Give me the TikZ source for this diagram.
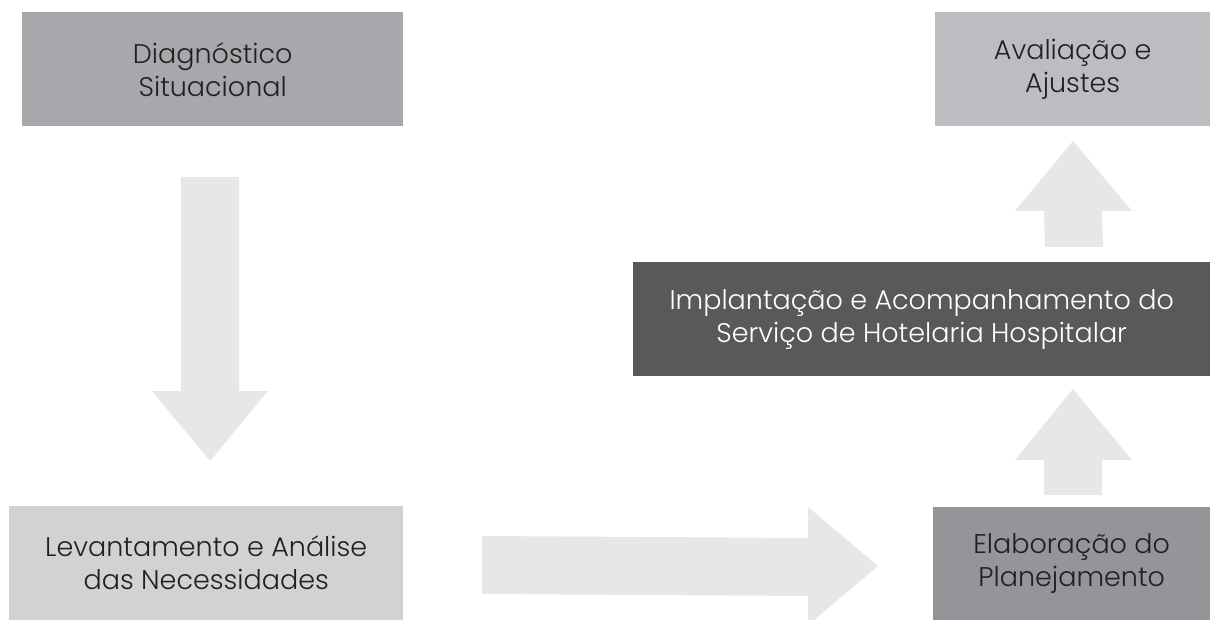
\documentclass[tikz,border=0pt]{standalone}
\usepackage{fontspec}
\setmainfont{Poppins Light}
\definecolor{cdiag}{HTML}{A7A8AB}
\definecolor{caval}{HTML}{BCBDC0}
\definecolor{cimpl}{HTML}{58595B}
\definecolor{clev}{HTML}{D1D2D4}
\definecolor{celab}{HTML}{939598}
\definecolor{carrow}{HTML}{E6E7E8}
\definecolor{ctext}{HTML}{231F20}
\begin{document}
\begin{tikzpicture}[x=1pt,y=-1pt,
  stepbox/.style={rectangle, inner sep=0pt, anchor=north west, align=center,
    text=ctext, font=\fontsize{27}{33}\selectfont},
  blockarrow/.style={fill=carrow, draw=none}]
\useasboundingbox (0,0) rectangle (1210,620);
\node[stepbox, fill=cdiag, minimum width=381pt, minimum height=114pt] (diag) at (22,12) {Diagnóstico\\Situacional};
\node[stepbox, fill=caval, minimum width=275pt, minimum height=114pt] (aval) at (935,12) {Avaliação e\\Ajustes};
\node[stepbox, fill=cimpl, text=white, minimum width=577pt, minimum height=114pt] (impl) at (633,262) {Implantação e Acompanhamento do\\Serviço de Hotelaria Hospitalar};
\node[stepbox, fill=clev, minimum width=394pt, minimum height=114pt] (lev) at (9,506) {Levantamento e Análise\\das Necessidades};
\node[stepbox, fill=celab, minimum width=277pt, minimum height=113pt] (elab) at (933,507) {Elaboração do\\Planejamento};
% arrow 1: diag -> lev (down)
\coordinate (a1s) at (210,177);
\coordinate (a1e) at (210,461);
\fill[blockarrow] ([xshift=-29pt]a1s) -- ([xshift=29pt]a1s) -- ([xshift=29pt,yshift=70pt]a1e) -- ([xshift=58pt,yshift=70pt]a1e) -- (a1e) -- ([xshift=-58pt,yshift=70pt]a1e) -- ([xshift=-29pt,yshift=70pt]a1e) -- cycle;
% arrow 2: lev -> elab (right)
\coordinate (a2s) at (482,565);
\coordinate (a2e) at (878,566);
\fill[blockarrow] ([yshift=29pt]a2s) -- ([yshift=-29pt]a2s) -- ([xshift=-70pt,yshift=-30pt]a2e) -- ([xshift=-70pt,yshift=-59pt]a2e) -- (a2e) -- ([xshift=-70pt,yshift=59pt]a2e) -- ([xshift=-70pt,yshift=28pt]a2e) -- cycle;
% arrow 3: elab -> impl (up)
\coordinate (a3s) at (1073,495);
\coordinate (a3e) at (1073,389);
\fill[blockarrow] ([xshift=-29pt]a3s) -- ([xshift=29pt]a3s) -- ([xshift=29pt,yshift=-71pt]a3e) -- ([xshift=59pt,yshift=-71pt]a3e) -- (a3e) -- ([xshift=-58pt,yshift=-71pt]a3e) -- ([xshift=-29pt,yshift=-71pt]a3e) -- cycle;
% arrow 4: impl -> aval (up)
\coordinate (a4s) at (1074,247);
\coordinate (a4e) at (1073,141);
\fill[blockarrow] ([xshift=-29pt]a4s) -- ([xshift=29pt]a4s) -- ([xshift=29pt,yshift=-70pt]a4e) -- ([xshift=59pt,yshift=-70pt]a4e) -- (a4e) -- ([xshift=-58pt,yshift=-70pt]a4e) -- ([xshift=-29pt,yshift=-70pt]a4e) -- cycle;
\end{tikzpicture}
\end{document}
